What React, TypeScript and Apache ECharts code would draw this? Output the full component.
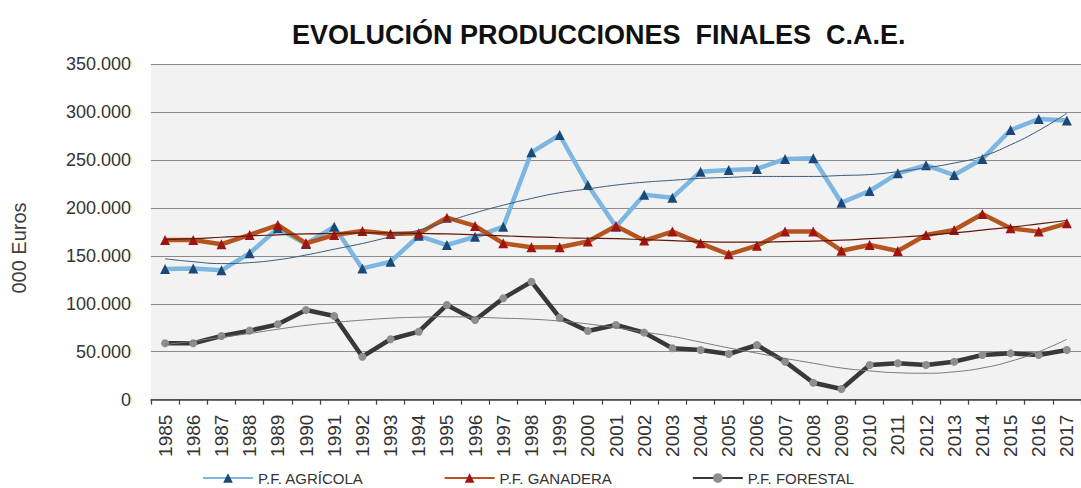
import React, { useEffect, useRef } from "react";
import * as echarts from "echarts";

const years = ["1985","1986","1987","1988","1989","1990","1991","1992","1993","1994","1995","1996","1997","1998","1999","2000","2001","2002","2003","2004","2005","2006","2007","2008","2009","2010","2011","2012","2013","2014","2015","2016","2017"];

// values in thousands (axis labels show e.g. 350.000)
const agricola = [136.4,136.8,135,152.8,178.9,162.5,180.6,137,144,171,161.4,170,180.5,258.2,276.3,224,180.5,214,210.8,238,239.8,240.8,251.3,252,205.6,217.8,236.3,244.7,234.5,251.3,281.5,293,291.3];
const ganadera = [166.7,166.7,162.2,171.9,182.3,163.2,171.9,176,172.9,173.6,190,181.3,163.2,159,159,165,181.3,166,175.4,163.2,151.7,160.7,175.4,175.4,155.5,161.4,155.2,171.9,177.1,193.8,178.9,175.4,184.1];
const forestal = [58.8,58.8,66.4,72,78.6,93.6,87.3,44.8,63,70.9,98.8,83.1,105.8,123.1,85.5,71.6,77.9,69.9,53.6,51.8,47.6,57,39.6,17.6,11.1,36.1,37.9,36.1,39.6,46.6,48.3,46.6,51.8];

// trend lines
const agricolaTrend = [147,144,142,143,146,151,157,163,170,177,186,195,203,210,216,220,224,227,229,231,232,233,233,233,234,235,238,242,247,254,266,281,299];
const ganaderaTrend = [167,168,169.5,171,172,173,173.5,174,174,173.5,173,172,171,170,169,168.5,168,167,166,165,164.5,164.5,165,165.5,166.5,168,169.5,171.5,174,177,180,183.5,187];
const forestalTrend = [57.5,61,65,69,73.5,77.5,80.5,83,85,86,86.5,86,85,84,82,79,75,70.5,66,60,54,48.5,43,38,33,30,28,27.5,29,33,40,50,63];

const yTicks = { min: 0, max: 350, interval: 50 };
const titleText = "EVOLUCIÓN PRODUCCIONES  FINALES  C.A.E.";
const yAxisName = "000 Euros";
const seriesNames = ["P.F. AGRÍCOLA", "P.F. GANADERA", "P.F. FORESTAL"];

export default function App() {
  const ref = useRef<HTMLDivElement>(null);
  useEffect(() => {
    if (!ref.current) return;
    const chart = echarts.init(ref.current, null, { renderer: "svg" });
    const font = "'Liberation Sans', Arial, sans-serif";
    chart.setOption({
      animation: false,
      backgroundColor: "#ffffff",
      title: {
        text: titleText,
        left: 292,
        top: 21,
        padding: 0,
        textStyle: { fontFamily: font, fontSize: 27, fontWeight: "bold", color: "#111111", lineHeight: 27 },
      },
      graphic: [
        {
          type: "text",
          x: 19,
          y: 248,
          rotation: Math.PI / 2,
          style: {
            text: yAxisName,
            font: "20px 'Liberation Sans', Arial, sans-serif",
            fill: "#404040",
            textAlign: "center",
            textVerticalAlign: "middle",
          },
        },
      ],
      legend: {
        data: seriesNames,
        left: 202,
        top: 470,
        padding: 0,
        itemWidth: 50,
        itemHeight: 12,
        itemGap: 80,
        textStyle: { fontFamily: font, fontSize: 15, color: "#333333", lineHeight: 16 },
      },
      grid: {
        left: 151,
        top: 64.4,
        width: 940,
        height: 335.2,
        show: true,
        backgroundColor: "#f2f2f2",
        borderWidth: 0,
      },
      xAxis: {
        type: "category",
        data: years,
        boundaryGap: true,
        axisLine: { show: true, lineStyle: { color: "#404040", width: 1.5 } },
        axisTick: { show: true, length: 5, alignWithLabel: false, lineStyle: { color: "#404040", width: 1.2 } },
        axisLabel: { rotate: 90, interval: 0, margin: 15, fontFamily: font, fontSize: 19, color: "#333333" },
        splitLine: { show: false },
      },
      yAxis: {
        type: "value",
        min: yTicks.min,
        max: yTicks.max,
        interval: yTicks.interval,
        axisLine: { show: false },
        axisTick: { show: false },
        axisLabel: {
          margin: 20,
          fontFamily: font,
          fontSize: 18,
          color: "#333333",
          formatter: (v: number) => (v === 0 ? "0" : v + ".000"),
        },
        splitLine: { show: true, lineStyle: { color: "#8c8c8c", width: 1.2 } },
      },
      series: [
        {
          name: seriesNames[0],
          type: "line",
          data: agricola,
          symbol: "triangle",
          symbolSize: 10,
          lineStyle: { color: "#7db6e0", width: 4.5 },
          itemStyle: { color: "#1b4877", borderWidth: 0 },
          z: 3,
        },
        {
          name: seriesNames[1],
          type: "line",
          data: ganadera,
          symbol: "triangle",
          symbolSize: 10,
          lineStyle: { color: "#b6541f", width: 4.5 },
          itemStyle: { color: "#a11411", borderWidth: 0 },
          z: 4,
        },
        {
          name: seriesNames[2],
          type: "line",
          data: forestal,
          symbol: "circle",
          symbolSize: 8,
          lineStyle: { color: "#383838", width: 4.5 },
          itemStyle: { color: "#8e8e8e", borderWidth: 0 },
          z: 3,
        },
        {
          name: "trendA",
          type: "line",
          data: agricolaTrend,
          smooth: true,
          symbol: "none",
          lineStyle: { color: "#3c5a78", width: 1 },
          z: 5,
          silent: true,
        },
        {
          name: "trendG",
          type: "line",
          data: ganaderaTrend,
          smooth: true,
          symbol: "none",
          lineStyle: { color: "#5e1a0c", width: 1.2 },
          z: 5,
          silent: true,
        },
        {
          name: "trendF",
          type: "line",
          data: forestalTrend,
          smooth: true,
          symbol: "none",
          lineStyle: { color: "#7a7a7a", width: 1 },
          z: 5,
          silent: true,
        },
      ],
    });
    return () => chart.dispose();
  }, []);
  return (
    <div
      ref={ref}
      style={{ position: "absolute", left: 0, top: 0, width: 1081, height: 488, overflow: "hidden" }}
    />
  );
}
